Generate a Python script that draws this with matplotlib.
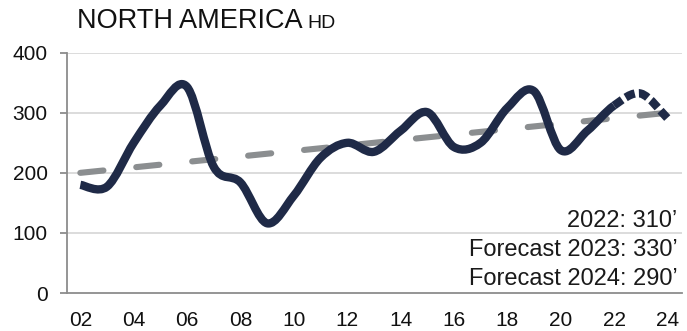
"""Heavy-duty truck market, North America: yearly volumes with trend and forecast."""

import matplotlib.pyplot as plt
import numpy as np
from matplotlib.path import Path
from matplotlib.patches import PathPatch

# yearly volumes ('000 units); 2023 and 2024 are forecasts
years = [2002, 2003, 2004, 2005, 2006, 2007, 2008, 2009, 2010, 2011, 2012, 2013,
         2014, 2015, 2016, 2017, 2018, 2019, 2020, 2021, 2022, 2023, 2024]
volumes = [180, 177, 250, 312, 343, 210, 184, 116, 162, 225, 250, 235,
           270, 301, 243, 250, 308, 336, 238, 270, 312, 332, 291]
first_forecast_year = 2022

# linear trend end points
trend_years = [2002, 2024]
trend_values = [200, 300]

tick_years = list(range(2002, 2025, 2))
tick_labels = [f"{y % 100:02d}" for y in tick_years]
y_ticks = [0, 100, 200, 300, 400]

notes = ["2022: 310’", "Forecast 2023: 330’", "Forecast 2024: 290’"]

NAVY = "#1f2a47"
TREND_GREY = "#8b8e90"
GRID_GREY = "#d9d9d9"
AXIS_GREY = "#8c8c8c"


def smooth_path(x, y, start, stop):
    """Bezier path through points start..stop, tangents from neighbours (Catmull-Rom)."""
    pts = np.column_stack([x, y]).astype(float)
    n = len(pts)
    verts = [pts[start]]
    codes = [Path.MOVETO]
    for i in range(start, stop):
        p0 = pts[max(i - 1, 0)]
        p1 = pts[i]
        p2 = pts[i + 1]
        p3 = pts[min(i + 2, n - 1)]
        verts += [p1 + (p2 - p0) / 6, p2 - (p3 - p1) / 6, p2]
        codes += [Path.CURVE4] * 3
    return Path(verts, codes)


fig = plt.figure(figsize=(6.87, 3.31), dpi=100)
ax = fig.add_axes([0.0975, 0.1148, 0.8953, 0.726])

ax.set_xlim(2001.5, 2024.55)
ax.set_ylim(0, 400)

for v in y_ticks[1:]:
    ax.axhline(v, color=GRID_GREY, lw=1.3, zorder=0)

# trend line
ax.plot(trend_years, trend_values, color=TREND_GREY, lw=4.4,
        dashes=(3.8, 5.4), dash_capstyle="round", zorder=2)

split = years.index(first_forecast_year)
actual = PathPatch(smooth_path(years, volumes, 0, split), fill=False,
                   edgecolor=NAVY, lw=6.0, capstyle="butt", joinstyle="round",
                   zorder=3)
ax.add_patch(actual)
forecast = PathPatch(smooth_path(years, volumes, split, len(years) - 1), fill=False,
                     edgecolor=NAVY, lw=6.0, linestyle=(0, (1.2, 0.5)),
                     capstyle="butt", zorder=3)
ax.add_patch(forecast)

for side in ["top", "right"]:
    ax.spines[side].set_visible(False)
for side in ["left", "bottom"]:
    ax.spines[side].set_color(AXIS_GREY)
    ax.spines[side].set_linewidth(1.3)

ax.set_yticks(y_ticks)
ax.set_xticks(tick_years)
ax.set_xticklabels(tick_labels)
ax.tick_params(axis="y", length=5, width=1.3, color=AXIS_GREY, pad=9,
               labelsize=15)
ax.tick_params(axis="x", length=0, pad=13, labelsize=15)
for lab in ax.get_xticklabels() + ax.get_yticklabels():
    lab.set_fontfamily("Liberation Sans")
    lab.set_color("#111111")

for i, txt in enumerate(notes):
    ax.text(0.992, 0.2747 - i * 0.1207, txt, transform=ax.transAxes,
            ha="right", va="baseline", fontsize=17, color="#1a1a1a",
            family="Liberation Sans")

title = fig.text(77 / 687, 1 - 28 / 331, "NORTH AMERICA", ha="left",
                 va="baseline", fontsize=19.5, color="#111111",
                 family="Liberation Sans")
fig.canvas.draw()
bb = title.get_window_extent()
fig.text(bb.x1 / fig.bbox.width + 5 / 687, 1 - 28 / 331, "HD", ha="left",
         va="baseline", fontsize=14, color="#111111", family="Liberation Sans")

fig.savefig("out.png", dpi=100)
